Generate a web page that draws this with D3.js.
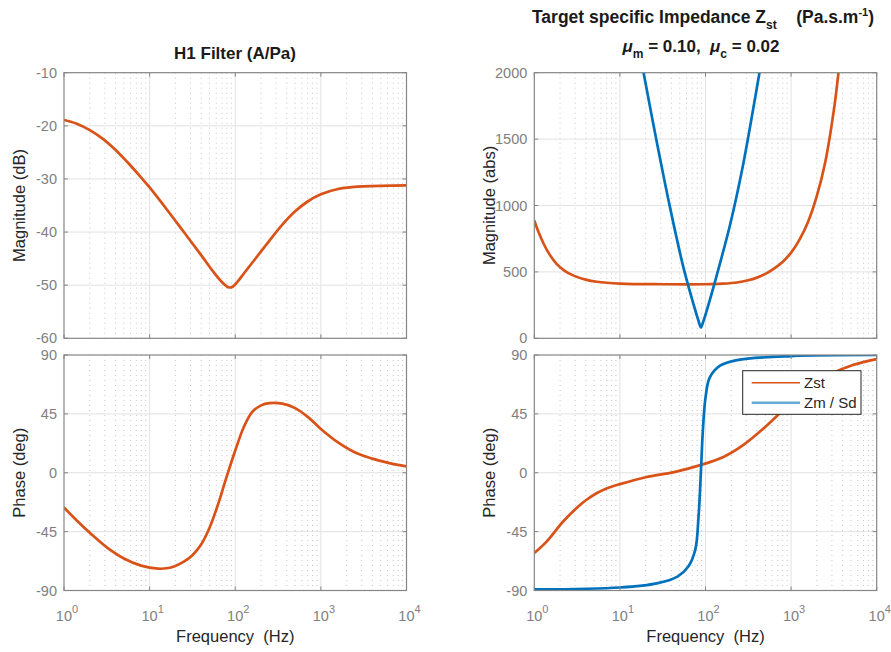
<!DOCTYPE html>
<html>
<head>
<meta charset="utf-8">
<script src="https://cdn.jsdelivr.net/npm/d3@7"></script>
<style>
  body { margin: 0; background: #fff; }
  text { font-family: "Liberation Sans", Arial, sans-serif; white-space: pre; }
</style>
</head>
<body>
<svg id="chart" width="891" height="652"></svg>
<script>
const W = 891, H = 652;
const svg = d3.select("#chart");

const orange = "#D95319", blue = "#0072BD";

// frequency decades (Hz)
const freqTicks = [1, 10, 100, 1000, 10000];
const freqExp = ["0", "1", "2", "3", "4"];

// H1 filter magnitude (dB)
const h1MagFreq = [1, 1.41, 2, 2.82, 3.98, 5.62, 7.94, 10, 15.8, 25.1, 39.8, 56.2, 70.8, 83.2, 93.3, 107, 126, 178, 251, 355, 501, 708, 1000, 1585, 3162, 10000];
const h1MagDb = [-18.9, -19.6, -20.8, -22.4, -24.5, -27.0, -29.7, -31.6, -35.7, -40.0, -44.3, -47.6, -49.5, -50.4, -50.3, -49.3, -47.8, -44.7, -41.6, -38.6, -36.1, -34.2, -32.9, -31.9, -31.4, -31.2];

// H1 filter phase (deg)
const h1PhFreq = [1, 1.41, 2, 3.16, 5.01, 7.94, 12.6, 15.8, 20, 25.1, 31.6, 39.8, 50.1, 63.1, 79.4, 100, 126, 158, 200, 251, 355, 501, 708, 1000, 1585, 2512, 3981, 6310, 10000];
const h1PhDeg = [-26.6, -36.5, -45.9, -57.0, -65.5, -71.0, -73.3, -73.0, -71.2, -68.0, -63.0, -55.0, -42.0, -24.0, -3.0, 17.0, 35.0, 46.5, 51.5, 53.2, 52.8, 49.4, 42.5, 33.5, 23.2, 15.5, 10.8, 7.4, 4.9];

// Zst magnitude (abs)
const zstMagFreq = [1, 1.12, 1.29, 1.51, 1.82, 2.24, 2.88, 3.98, 5.37, 10, 31.6, 100, 158, 234, 316, 398, 501, 631, 794, 1000, 1259, 1585, 1995, 2512, 3162, 3548, 3981];
const zstMag = [887, 800, 710, 630, 560, 510, 472, 442, 426, 412, 407, 407, 411, 420, 437, 457, 485, 525, 575, 645, 745, 880, 1070, 1330, 1720, 1980, 2280];

// Zm / Sd magnitude (abs)
const zmMagFreq = [15.8, 18.9, 26.9, 38.6, 55.3, 72.4, 83, 88.3, 94, 104, 136, 194, 275, 427, 479];
const zmMag = [2260, 2000, 1482, 982, 532, 257, 130, 82, 125, 215, 480, 857, 1307, 2000, 2190];

// Zst phase (deg)
const zstPhFreq = [1, 1.4, 2.2, 3.5, 4.0, 5.4, 7.1, 10, 20, 43, 91, 162, 275, 479, 813, 1380, 2880, 5370, 10000];
const zstPh = [-61.4, -52.4, -36.9, -24.0, -21.0, -15.5, -11.8, -8.7, -3.4, 0.5, 6.2, 12.1, 21.1, 34.0, 48.2, 62.4, 75.3, 82.5, 86.9];

// Zm / Sd phase (deg)
const zmPhFreq = [1, 10, 27, 47, 63, 76, 83, 88.3, 93, 100, 112, 148, 234, 1000, 10000];
const zmPh = [-89.2, -87.7, -84.6, -79.4, -71.7, -58.8, -33.0, 0, 31.5, 57.3, 72.7, 81.8, 86.1, 89.2, 90];

const legendNames = ["Zst", "Zm / Sd"];

function toPts(f, v) { return f.map((d, i) => ({ f: d, v: v[i] })); }

let clipN = 0;
function panel(o) {
  const x = d3.scaleLog().domain([1, 10000]).range([o.x0, o.x1]);
  const y = d3.scaleLinear().domain(o.yDomain).range([o.y1, o.y0]);
  const g = svg.append("g");

  // minor grid (dotted)
  const minor = [];
  [1, 10, 100, 1000].forEach(d => { for (let m = 2; m <= 9; m++) minor.push(m * d); });
  g.selectAll(".minor").data(minor).enter().append("line")
    .attr("x1", d => x(d)).attr("x2", d => x(d))
    .attr("y1", o.y0).attr("y2", o.y1)
    .attr("stroke", "#c6c6c6").attr("stroke-width", 1)
    .attr("stroke-dasharray", "1,4");

  // major grid
  g.selectAll(".gx").data(freqTicks.slice(1, -1)).enter().append("line")
    .attr("x1", d => x(d)).attr("x2", d => x(d))
    .attr("y1", o.y0).attr("y2", o.y1)
    .attr("stroke", "#e2e2e2").attr("stroke-width", 1);
  g.selectAll(".gy").data(o.yTicks.slice(1, -1)).enter().append("line")
    .attr("x1", o.x0).attr("x2", o.x1)
    .attr("y1", d => y(d)).attr("y2", d => y(d))
    .attr("stroke", "#e2e2e2").attr("stroke-width", 1);

  // curves
  const id = "clip" + (clipN++);
  svg.append("clipPath").attr("id", id).append("rect")
    .attr("x", o.x0).attr("y", o.y0).attr("width", o.x1 - o.x0).attr("height", o.y1 - o.y0);
  const line = d3.line().x(d => x(d.f)).y(d => y(d.v)).curve(d3.curveCatmullRom.alpha(0.5));
  o.series.forEach(s => {
    g.append("path").datum(s.pts)
      .attr("clip-path", `url(#${id})`)
      .attr("fill", "none").attr("stroke", s.color)
      .attr("stroke-width", 2.7).attr("stroke-linejoin", "round")
      .attr("d", line);
  });

  // ticks inside the box
  const tl = 4;
  freqTicks.forEach(d => {
    g.append("line").attr("x1", x(d)).attr("x2", x(d)).attr("y1", o.y1).attr("y2", o.y1 - tl).attr("stroke", "#858585");
    g.append("line").attr("x1", x(d)).attr("x2", x(d)).attr("y1", o.y0).attr("y2", o.y0 + tl).attr("stroke", "#858585");
  });
  o.yTicks.forEach(d => {
    g.append("line").attr("x1", o.x0).attr("x2", o.x0 + tl).attr("y1", y(d)).attr("y2", y(d)).attr("stroke", "#858585");
    g.append("line").attr("x1", o.x1).attr("x2", o.x1 - tl).attr("y1", y(d)).attr("y2", y(d)).attr("stroke", "#858585");
  });

  // box
  g.append("rect").attr("x", o.x0).attr("y", o.y0)
    .attr("width", o.x1 - o.x0).attr("height", o.y1 - o.y0)
    .attr("fill", "none").attr("stroke", "#858585").attr("stroke-width", 1.2);

  // y tick labels
  g.selectAll(".yl").data(o.yTicks).enter().append("text")
    .attr("x", o.x0 - 7).attr("y", d => y(d) + 5)
    .attr("text-anchor", "end").attr("font-size", 14.5).attr("fill", "#808080")
    .text(d => d);

  // y label
  g.append("text")
    .attr("transform", `translate(${o.x0 - 39},${(o.y0 + o.y1) / 2}) rotate(-90)`)
    .attr("text-anchor", "middle").attr("font-size", 16.5).attr("fill", "#262626")
    .text(o.ylabel);

  // x axis labels
  if (o.xlabels) {
    freqTicks.forEach((d, i) => {
      const t = g.append("text").attr("x", x(d) + 3).attr("y", o.y1 + 30)
        .attr("text-anchor", "middle").attr("font-size", 14.5).attr("fill", "#808080");
      t.append("tspan").text("10");
      t.append("tspan").attr("dy", -8).attr("font-size", 11).text(freqExp[i]);
    });
    g.append("text").attr("x", (o.x0 + o.x1) / 2).attr("y", o.y1 + 51)
      .attr("text-anchor", "middle").attr("font-size", 16.5).attr("fill", "#262626")
      .text("Frequency\u00a0\u00a0(Hz)");
  }
  return { x, y, g };
}

const L = { x0: 64, x1: 406.5 }, R = { x0: 534.3, x1: 876.7 };
const T = { y0: 72.7, y1: 338.3 }, B = { y0: 355, y1: 590.5 };

panel({ ...L, ...T, yDomain: [-60, -10], yTicks: [-60, -50, -40, -30, -20, -10],
  ylabel: "Magnitude (dB)", series: [{ pts: toPts(h1MagFreq, h1MagDb), color: orange }] });
panel({ ...L, ...B, yDomain: [-90, 90], yTicks: [-90, -45, 0, 45, 90], xlabels: true,
  ylabel: "Phase (deg)", series: [{ pts: toPts(h1PhFreq, h1PhDeg), color: orange }] });
panel({ ...R, ...T, yDomain: [0, 2000], yTicks: [0, 500, 1000, 1500, 2000],
  ylabel: "Magnitude (abs)", series: [
    { pts: toPts(zstMagFreq, zstMag), color: orange },
    { pts: toPts(zmMagFreq, zmMag), color: blue }] });
panel({ ...R, ...B, yDomain: [-90, 90], yTicks: [-90, -45, 0, 45, 90], xlabels: true,
  ylabel: "Phase (deg)", series: [
    { pts: toPts(zstPhFreq, zstPh), color: orange },
    { pts: toPts(zmPhFreq, zmPh), color: blue }] });

// titles
svg.append("text").attr("x", 235).attr("y", 58.5).attr("text-anchor", "middle")
  .attr("font-size", 17).attr("font-weight", "bold").attr("fill", "#1a1a1a")
  .text("H1 Filter (A/Pa)");

const t1 = svg.append("text").attr("x", 703).attr("y", 23).attr("text-anchor", "middle")
  .attr("font-size", 17.5).attr("font-weight", "bold").attr("fill", "#1a1a1a");
t1.append("tspan").text("Target specific Impedance Z");
t1.append("tspan").attr("dy", 6).attr("font-size", 12).text("st");
t1.append("tspan").attr("dy", -6).text("\u00a0\u00a0\u00a0\u00a0(Pa.s.m");
t1.append("tspan").attr("dy", -7).attr("font-size", 11).text("-1");
t1.append("tspan").attr("dy", 7).text(")");

const t2 = svg.append("text").attr("x", 701).attr("y", 52).attr("text-anchor", "middle")
  .attr("font-size", 17).attr("font-weight", "bold").attr("fill", "#1a1a1a");
t2.append("tspan").attr("font-style", "italic").text("\u03bc");
t2.append("tspan").attr("dy", 6).attr("font-size", 12).text("m");
t2.append("tspan").attr("dy", -6).text(" = 0.10,\u00a0\u00a0");
t2.append("tspan").attr("font-style", "italic").text("\u03bc");
t2.append("tspan").attr("dy", 6).attr("font-size", 12).text("c");
t2.append("tspan").attr("dy", -6).text(" = 0.02");

// legend
const lg = svg.append("g");
lg.append("rect").attr("x", 742.7).attr("y", 370.7).attr("width", 118.3).attr("height", 43.6)
  .attr("fill", "#fff").attr("stroke", "#262626").attr("stroke-width", 1);
[orange, blue].forEach((c, i) => {
  const yy = 382.7 + i * 20;
  lg.append("line").attr("x1", 751.7).attr("x2", 800).attr("y1", yy).attr("y2", yy)
    .attr("stroke", c).attr("stroke-width", i === 0 ? 1.5 : 2.5).attr("stroke-opacity", i === 0 ? 1 : 0.6);
  lg.append("text").attr("x", 804).attr("y", yy + 5).attr("font-size", 15).attr("fill", "#262626")
    .text(legendNames[i]);
});
</script>
</body>
</html>
